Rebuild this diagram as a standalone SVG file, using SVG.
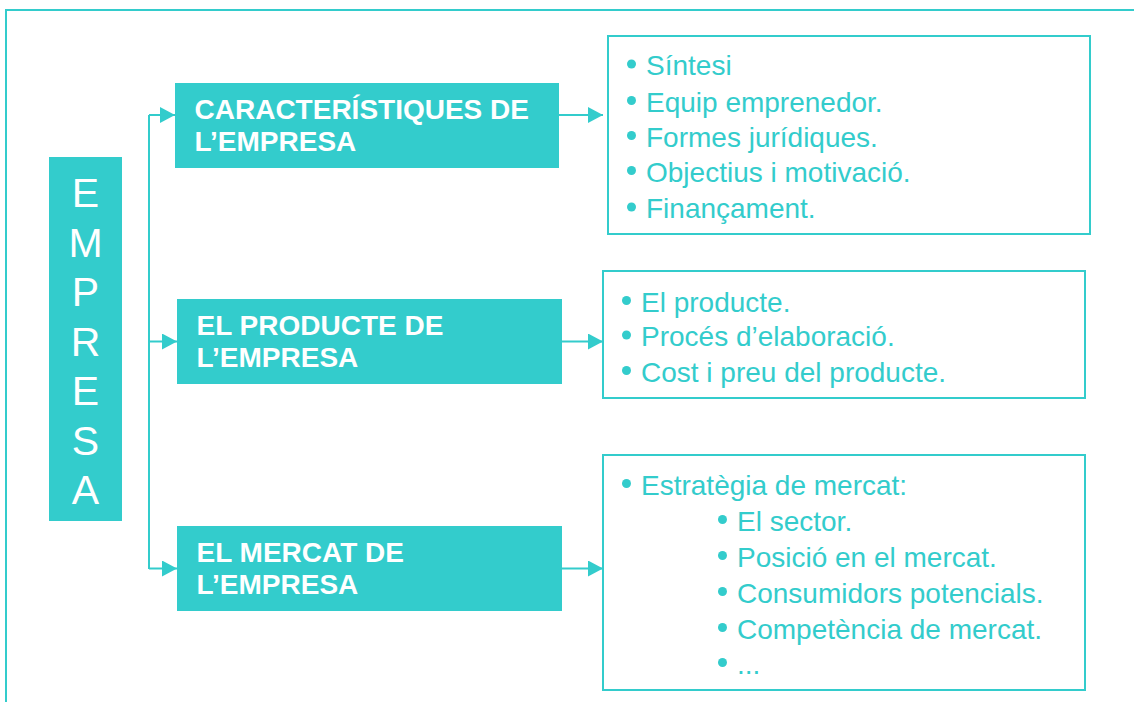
<svg xmlns="http://www.w3.org/2000/svg" width="1134" height="702" viewBox="0 0 1134 702">
<defs>
<style>
.fill{fill:#33CCCC;}
.list{fill:#FFFFFF;stroke:#33CCCC;stroke-width:2;}
.title{font-family:"Liberation Sans",Arial,sans-serif;font-size:28px;font-weight:bold;fill:#FFFFFF;}
.big{font-family:"Liberation Sans",Arial,sans-serif;font-size:41px;fill:#FFFFFF;text-anchor:middle;}
.item{font-family:"Liberation Sans",Arial,sans-serif;font-size:28px;fill:#33CCCC;}
.dot{fill:#33CCCC;}
.conn{fill:none;stroke:#33CCCC;stroke-width:2;}
</style>
<marker id="arr" markerUnits="userSpaceOnUse" markerWidth="15" markerHeight="16" viewBox="0 0 15 16" refX="15" refY="8" orient="auto">
<path d="M0,0 L15,8 L0,16 z" fill="#33CCCC"/>
</marker>
</defs>
<rect width="1134" height="702" fill="#FFFFFF"/>
<path class="conn" d="M6,702 L6,10 L1134,10"/>

<g id="empresa">
<rect class="fill" x="49" y="157" width="73" height="364"/>
<text class="big" x="85.5" y="207">E</text>
<text class="big" x="85.5" y="256.5">M</text>
<text class="big" x="85.5" y="306">P</text>
<text class="big" x="85.5" y="355.5">R</text>
<text class="big" x="85.5" y="405">E</text>
<text class="big" x="85.5" y="454.5">S</text>
<text class="big" x="85.5" y="504">A</text>
</g>

<g id="connectors">
<path class="conn" d="M149,115 L149,569"/>
<path class="conn" d="M149,115 L175,115" marker-end="url(#arr)"/>
<path class="conn" d="M149,341.5 L177,341.5" marker-end="url(#arr)"/>
<path class="conn" d="M149,568.5 L177,568.5" marker-end="url(#arr)"/>
<path class="conn" d="M559,115 L603,115" marker-end="url(#arr)"/>
<path class="conn" d="M562,341.5 L603,341.5" marker-end="url(#arr)"/>
<path class="conn" d="M562,568.5 L603,568.5" marker-end="url(#arr)"/>
</g>

<g id="caracteristiques">
<rect class="fill" x="175" y="83" width="384" height="85"/>
<text class="title" x="194.5" y="119">CARACTERÍSTIQUES DE</text>
<text class="title" x="194.5" y="151">L’EMPRESA</text>
</g>

<g id="producte">
<rect class="fill" x="177" y="299" width="385" height="85"/>
<text class="title" x="196.5" y="335">EL PRODUCTE DE</text>
<text class="title" x="196.5" y="367">L’EMPRESA</text>
</g>

<g id="mercat">
<rect class="fill" x="177" y="526" width="385" height="85"/>
<text class="title" x="196.5" y="562">EL MERCAT DE</text>
<text class="title" x="196.5" y="594">L’EMPRESA</text>
</g>

<g id="llista-caracteristiques">
<rect class="list" x="608" y="36" width="482" height="198"/>
<circle class="dot" cx="631.5" cy="64" r="4.5"/>
<text class="item" x="646" y="75">Síntesi</text>
<circle class="dot" cx="631.5" cy="100.5" r="4.5"/>
<text class="item" x="646" y="111.5">Equip emprenedor.</text>
<circle class="dot" cx="631.5" cy="135.5" r="4.5"/>
<text class="item" x="646" y="146.5">Formes jurídiques.</text>
<circle class="dot" cx="631.5" cy="170.5" r="4.5"/>
<text class="item" x="646" y="181.5">Objectius i motivació.</text>
<circle class="dot" cx="631.5" cy="207" r="4.5"/>
<text class="item" x="646" y="218">Finançament.</text>
</g>

<g id="llista-producte">
<rect class="list" x="603" y="271" width="482" height="127"/>
<circle class="dot" cx="626.5" cy="300.5" r="4.5"/>
<text class="item" x="641" y="311.5">El producte.</text>
<circle class="dot" cx="626.5" cy="335" r="4.5"/>
<text class="item" x="641" y="346">Procés d’elaboració.</text>
<circle class="dot" cx="626.5" cy="370.5" r="4.5"/>
<text class="item" x="641" y="381.5">Cost i preu del producte.</text>
</g>

<g id="llista-mercat">
<rect class="list" x="603" y="455" width="482" height="235"/>
<circle class="dot" cx="626.5" cy="483.5" r="4.5"/>
<text class="item" x="641" y="494.5">Estratègia de mercat:</text>
<circle class="dot" cx="722.5" cy="519.5" r="4.5"/>
<text class="item" x="737" y="530.5">El sector.</text>
<circle class="dot" cx="722.5" cy="555.5" r="4.5"/>
<text class="item" x="737" y="566.5">Posició en el mercat.</text>
<circle class="dot" cx="722.5" cy="591.5" r="4.5"/>
<text class="item" x="737" y="602.5">Consumidors potencials.</text>
<circle class="dot" cx="722.5" cy="627.5" r="4.5"/>
<text class="item" x="737" y="638.5">Competència de mercat.</text>
<circle class="dot" cx="722.5" cy="662.5" r="4.5"/>
<text class="item" x="737" y="673.5">...</text>
</g>
</svg>
